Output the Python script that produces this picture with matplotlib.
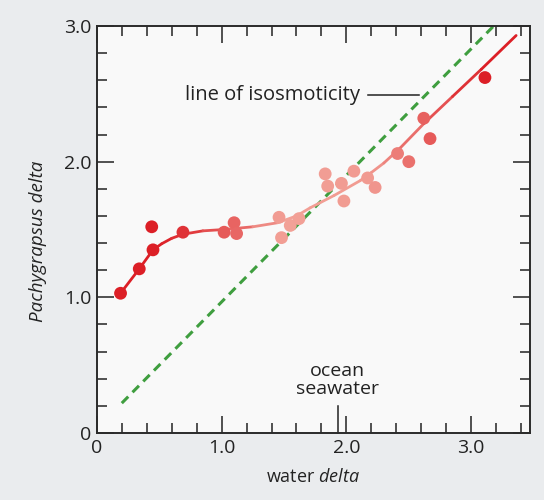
# -*- coding: utf-8 -*-
"""
Pachygrapsus delta vs water delta (line of isosmoticity)
"""
import numpy as np
import matplotlib
matplotlib.use('Agg')
import matplotlib.pyplot as plt
from matplotlib.collections import LineCollection
from matplotlib.colors import to_rgb
from matplotlib.ticker import MultipleLocator, FixedLocator, FixedFormatter

plt.rcParams['font.family'] = ['Open Sans', 'DejaVu Sans']
plt.rcParams['mathtext.fontset'] = 'custom'
plt.rcParams['mathtext.rm'] = 'Open Sans'
plt.rcParams['mathtext.it'] = 'Open Sans:italic'

# 測量點 (water delta, Pachygrapsus delta)
water_x = [0.19, 0.34, 0.45, 0.44, 0.69, 1.02, 1.10, 1.12,
           1.46, 1.48, 1.55, 1.62, 1.83, 1.85, 1.96, 1.98,
           2.06, 2.17, 2.23, 2.41, 2.50, 2.62, 2.67, 3.11]
crab_y = [1.03, 1.21, 1.35, 1.52, 1.48, 1.48, 1.55, 1.47,
          1.59, 1.44, 1.53, 1.58, 1.91, 1.82, 1.84, 1.71,
          1.93, 1.88, 1.81, 2.06, 2.00, 2.32, 2.17, 2.62]

# 擬合曲線
curve_x = [0.19, 0.34, 0.45, 0.52, 0.60, 0.69, 0.85, 1.02, 1.25, 1.45,
           1.60, 1.71, 1.90, 2.11, 2.20, 2.30, 2.43, 2.62, 2.85, 3.08, 3.36]
curve_y = [1.03, 1.21, 1.35, 1.395, 1.435, 1.465, 1.49, 1.50, 1.52, 1.55,
           1.60, 1.66, 1.75, 1.86, 1.92, 1.99, 2.10, 2.28, 2.48, 2.68, 2.93]

# 等滲線
iso_x = [0.20, 3.18]
iso_y = [0.22, 3.00]

ocean_x = 1.93

STRONG = np.array(to_rgb('#dc1f26'))
PALE = np.array(to_rgb('#f6b8ab'))


def shade(x):
    w = np.interp(x, [0.2, 0.5, 0.8, 1.1, 1.5, 2.2, 2.6, 3.1],
                  [1.0, 1.0, 0.8, 0.55, 0.15, 0.2, 0.55, 1.0])
    return [tuple(PALE + (STRONG - PALE) * v) for v in np.atleast_1d(w)]


fig = plt.figure(figsize=(5.44, 5.0), dpi=100, facecolor='#eaecee')
ax = fig.add_axes([0.178, 0.134, 0.796, 0.814])
ax.set_facecolor('#f9f9f9')

# 等滲線
ax.plot(iso_x, iso_y, color='#3f9e3f', lw=2.2, linestyle=(0, (3, 2)), zorder=2)

# 擬合曲線 (顏色漸變)
cx = np.array(curve_x)
cy = np.array(curve_y)
segs = [[(cx[i], cy[i]), (cx[i + 1], cy[i + 1])] for i in range(len(cx) - 1)]
mids = (cx[:-1] + cx[1:]) / 2
lc = LineCollection(segs, colors=shade(mids), linewidths=2.0, capstyle='round',
                    joinstyle='round', zorder=3)
ax.add_collection(lc)

ax.scatter(water_x, crab_y, s=85, c=shade(np.array(water_x)), edgecolors='none', zorder=4)

# 標註
ax.text(2.11, 2.49, 'line of isosmoticity', ha='right', va='center', fontsize=14.5, color='#222222')
ax.plot([2.17, 2.58], [2.49, 2.49], color='#222222', lw=1.1, zorder=2)

ax.text(ocean_x, 0.26, 'ocean\nseawater', ha='center', va='bottom', fontsize=14,
        color='#222222', linespacing=1.0)
ax.plot([ocean_x, ocean_x], [0, 0.2], color='#222222', lw=1.1, clip_on=False)

ax.set_xlim(0, 3.47)
ax.set_ylim(0, 3.0)

ax.xaxis.set_major_locator(FixedLocator([0, 1, 2, 3]))
ax.xaxis.set_major_formatter(FixedFormatter(['0', '1.0', '2.0', '3.0']))
ax.yaxis.set_major_locator(FixedLocator([0, 1, 2, 3]))
ax.yaxis.set_major_formatter(FixedFormatter(['0', '1.0', '2.0', '3.0']))
ax.xaxis.set_minor_locator(MultipleLocator(0.2))
ax.yaxis.set_minor_locator(MultipleLocator(0.2))

ax.tick_params(which='both', direction='in', top=True, right=True, colors='#222222',
               labelsize=14, width=1.1)
ax.tick_params(which='major', length=12, pad=4)
ax.tick_params(which='minor', length=7)

for sp in ax.spines.values():
    sp.set_linewidth(1.4)
    sp.set_color('#2a2a2a')

ax.set_xlabel('water $\\it{delta}$', fontsize=13, color='#222222', labelpad=8)
ax.set_ylabel('Pachygrapsus delta', fontsize=13.5, style='italic', color='#222222', labelpad=10)
ax.yaxis.set_label_coords(-0.115, 0.47)

plt.savefig('out.png', dpi=100, facecolor=fig.get_facecolor())
plt.close()
